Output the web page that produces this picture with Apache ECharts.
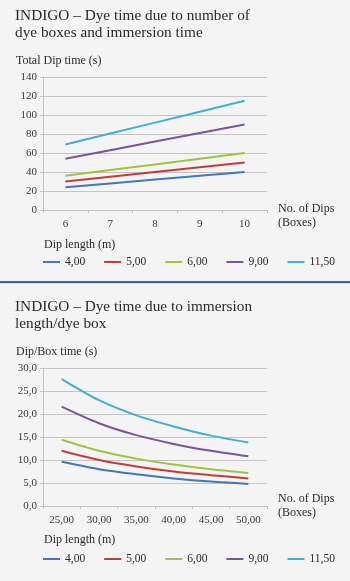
<!DOCTYPE html>
<html>
<head>
<meta charset="utf-8">
<script src="https://cdn.jsdelivr.net/npm/echarts@6/dist/echarts.min.js"></script>
<style>
  html, body { margin: 0; padding: 0; background: #f4f4f4; }
  #chart { width: 350px; height: 581px; }
</style>
</head>
<body>
<div id="chart"></div>
<script>
const FONT = 'Liberation Serif';

// series names (dip length in m)
const seriesNames = ['4,00', '5,00', '6,00', '9,00', '11,50'];
const colors = ['#3d78c0', '#c33c37', '#9cc43f', '#7b539f', '#3fb0d0'];

// chart 1: total dip time by number of dips
const dipsCats = ['6', '7', '8', '9', '10'];
const total400 = [24, 28, 32, 36, 40];
const total500 = [30, 35, 40, 45, 50];
const total600 = [36, 42, 48, 54, 60];
const total900 = [54, 63, 72, 81, 90];
const total1150 = [69, 80.5, 92, 103.5, 115];

// chart 2: dip/box time by immersion length
const lengthCats = ['25,00', '30,00', '35,00', '40,00', '45,00', '50,00'];
const box400 = [9.6, 8.0, 6.9, 6.0, 5.3, 4.8];
const box500 = [12.0, 10.0, 8.6, 7.5, 6.7, 6.0];
const box600 = [14.4, 12.0, 10.3, 9.0, 8.0, 7.2];
const box900 = [21.6, 18.0, 15.4, 13.5, 12.0, 10.8];
const box1150 = [27.6, 23.0, 19.7, 17.3, 15.3, 13.8];

const totals = [total400, total500, total600, total900, total1150];
const boxes = [box400, box500, box600, box900, box1150];

const axisGray = '#c4c4c4';
const labelColor = '#3a3a3a';

const xAxisBase = (cats, grid) => ({
  type: 'category',
  gridIndex: grid,
  data: cats,
  boundaryGap: true,
  axisLine: { lineStyle: { color: axisGray, width: 1 } },
  axisTick: { show: true, length: 3, lineStyle: { color: axisGray } },
  axisLabel: { fontFamily: FONT, fontSize: 11, color: labelColor, margin: 9 },
  splitLine: { show: false }
});

const yAxisBase = (grid, max, interval, fmt) => ({
  type: 'value',
  gridIndex: grid,
  min: 0,
  max: max,
  interval: interval,
  axisLine: { show: true, lineStyle: { color: axisGray } },
  axisTick: { show: true, length: 3, lineStyle: { color: axisGray } },
  axisLabel: { fontFamily: FONT, fontSize: 11, color: labelColor, margin: 6, formatter: fmt },
  splitLine: { lineStyle: { color: axisGray, width: 1 } }
});

const legendBase = (top) => ({
  top: top,
  left: 38,
  itemWidth: 17,
  itemHeight: 2,
  itemGap: 19,
  icon: 'rect',
  data: seriesNames,
  selectedMode: false,
  textStyle: { fontFamily: FONT, fontSize: 11.5, color: '#2a2a2a' }
});

const series = [];
seriesNames.forEach((name, i) => {
  series.push({
    name: name, type: 'line', xAxisIndex: 0, yAxisIndex: 0,
    data: totals[i], showSymbol: false, color: colors[i],
    lineStyle: { width: 2 }
  });
  series.push({
    name: name, type: 'line', xAxisIndex: 1, yAxisIndex: 1,
    data: boxes[i], showSymbol: false, smooth: 0.3, color: colors[i],
    lineStyle: { width: 2 }
  });
});

const titleStyle = { fontFamily: FONT, fontSize: 15.3, fontWeight: 'normal', color: '#2a2a2a', lineHeight: 17 };
const subStyle = { fontFamily: FONT, fontSize: 12, fontWeight: 'normal', color: '#2a2a2a', lineHeight: 14 };

const option = {
  backgroundColor: '#f4f4f4',
  animation: false,
  title: [
    { text: 'INDIGO – Dye time due to number of\ndye boxes and immersion time', left: 10, top: 7, padding: [0, 5], textStyle: titleStyle },
    { text: 'Total Dip time (s)', left: 11, top: 54, padding: [0, 5], textStyle: subStyle },
    { text: 'No. of Dips\n(Boxes)', left: 273, top: 202, padding: [0, 5], textStyle: subStyle },
    { text: 'Dip length (m)', left: 39, top: 238, padding: [0, 5], textStyle: subStyle },
    { text: 'INDIGO – Dye time due to immersion\nlength/dye box', left: 10, top: 298, padding: [0, 5], textStyle: titleStyle },
    { text: 'Dip/Box time (s)', left: 11, top: 345, padding: [0, 5], textStyle: subStyle },
    { text: 'No. of Dips\n(Boxes)', left: 273, top: 492, padding: [0, 5], textStyle: subStyle },
    { text: 'Dip length (m)', left: 39, top: 533, padding: [0, 5], textStyle: subStyle }
  ],
  legend: [legendBase(251), legendBase(548)],
  grid: [
    { left: 43, top: 77, width: 224, height: 133 },
    { left: 43, top: 368, width: 224, height: 138 }
  ],
  xAxis: [xAxisBase(dipsCats, 0), xAxisBase(lengthCats, 1)],
  yAxis: [
    yAxisBase(0, 140, 20),
    yAxisBase(1, 30, 5, v => v.toFixed(1).replace('.', ','))
  ],
  graphic: [
    { type: 'rect', shape: { x: 0, y: 281, width: 350, height: 2 }, style: { fill: '#4c6082' } },
    { type: 'rect', shape: { x: 0, y: 283, width: 350, height: 1 }, style: { fill: '#d8dde6' } }
  ],
  series: series
};

const myChart = echarts.init(document.getElementById('chart'));
myChart.setOption(option);
</script>
</body>
</html>
